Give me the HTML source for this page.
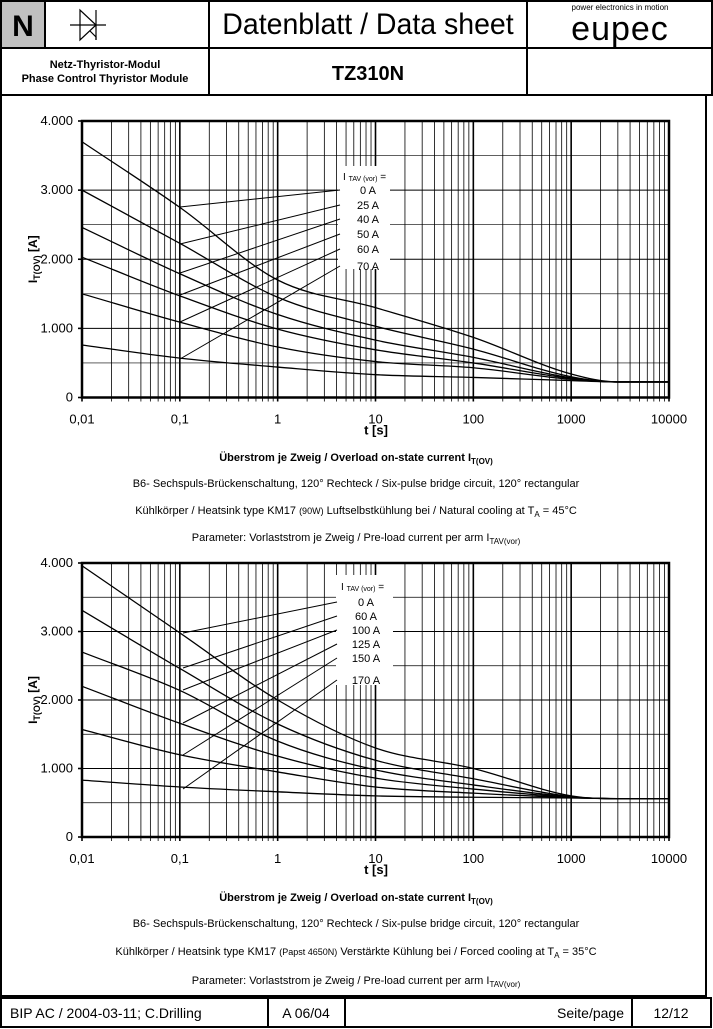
<!DOCTYPE html>
<html><head><meta charset="utf-8"><style>
body{margin:0;width:713px;height:1029px;background:#fff;font-family:"Liberation Sans",Arial,sans-serif;overflow:hidden}
svg{position:absolute;left:0;top:0}
</style></head><body>
<svg id="s" width="713" height="1029" viewBox="0 0 713 1029" font-family="Liberation Sans, Arial, sans-serif">
<rect x="1" y="1" width="44" height="47" fill="#c0c0c0"/>
<g stroke="#000" stroke-width="2" fill="none">
<rect x="1" y="1" width="711" height="94"/>
<line x1="1" y1="48" x2="712" y2="48"/>
<line x1="45" y1="1" x2="45" y2="48"/>
<line x1="209" y1="1" x2="209" y2="95"/>
<line x1="527" y1="1" x2="527" y2="95"/>
<rect x="1" y="95" width="705" height="901"/>
<rect x="1" y="998" width="710" height="29"/>
<line x1="268" y1="998" x2="268" y2="1027"/>
<line x1="345" y1="998" x2="345" y2="1027"/>
<line x1="632" y1="998" x2="632" y2="1027"/>
</g>
<text x="23" y="36" font-size="30" font-weight="bold" text-anchor="middle">N</text>
<g stroke="#000" stroke-width="1.2" fill="none">
<line x1="70" y1="25" x2="106" y2="25"/>
<path d="M80 10 L80 40 L96 25 Z"/><line x1="96" y1="10" x2="96" y2="40"/>
<path d="M90 31 L96 37 L96 40"/>
</g>
<text x="368" y="34" font-size="30" text-anchor="middle" transform="translate(368,0) scale(0.95,1) translate(-368,0)">Datenblatt / Data sheet</text>
<text x="620" y="10" font-size="8" text-anchor="middle">power electronics in motion</text>
<text x="620" y="40" font-size="34" text-anchor="middle" letter-spacing="1">eupec</text>
<text x="105" y="68" font-size="11" font-weight="bold" text-anchor="middle">Netz-Thyristor-Modul</text>
<text x="105" y="82" font-size="11" font-weight="bold" text-anchor="middle">Phase Control Thyristor Module</text>
<text x="368" y="80" font-size="20" font-weight="bold" text-anchor="middle">TZ310N</text>
<text x="10" y="1018" font-size="14">BIP AC /  2004-03-11; C.Drilling</text>
<text x="306" y="1018" font-size="14" text-anchor="middle">A 06/04</text>
<text x="624" y="1018" font-size="14" text-anchor="end">Seite/page</text>
<text x="671" y="1018" font-size="14" text-anchor="middle">12/12</text>

<g font-size="11" text-anchor="middle">
<text x="356" y="461" font-weight="bold">Überstrom je Zweig / Overload on-state current I<tspan font-size="8" dy="3">T(OV)</tspan></text>
<text x="356" y="487">B6- Sechspuls-Brückenschaltung, 120° Rechteck / Six-pulse bridge circuit, 120° rectangular</text>
<text x="356" y="514">Kühlkörper / Heatsink type KM17 <tspan font-size="9">(90W)</tspan> Luftselbstkühlung bei / Natural cooling at T<tspan font-size="8" dy="3">A</tspan><tspan dy="-3"> = 45°C</tspan></text>
<text x="356" y="541">Parameter: Vorlaststrom je Zweig / Pre-load current per arm I<tspan font-size="8" dy="3">TAV(vor)</tspan></text>
<text x="356" y="901" font-weight="bold">Überstrom je Zweig / Overload on-state current I<tspan font-size="8" dy="3">T(OV)</tspan></text>
<text x="356" y="927">B6- Sechspuls-Brückenschaltung, 120° Rechteck / Six-pulse bridge circuit, 120° rectangular</text>
<text x="356" y="955">Kühlkörper / Heatsink type KM17 <tspan font-size="9">(Papst 4650N)</tspan>      Verstärkte Kühlung bei / Forced cooling at T<tspan font-size="8" dy="3">A</tspan><tspan dy="-3"> = 35°C</tspan></text>
<text x="356" y="984">Parameter: Vorlaststrom je Zweig / Pre-load current per arm I<tspan font-size="8" dy="3">TAV(vor)</tspan></text>
</g>
<g id="c1"></g><g id="c2"></g>
</svg>
<script>
var NS="http://www.w3.org/2000/svg";
function el(p,n,a,t){var e=document.createElementNS(NS,n);for(var k in a)e.setAttribute(k,a[k]);if(t!=null)e.textContent=t;p.appendChild(e);return e;}
function mono(P){
 var n=P.length,dx=[],s=[],m=[];
 for(var i=0;i<n-1;i++){dx[i]=P[i+1][0]-P[i][0];s[i]=(P[i+1][1]-P[i][1])/dx[i];}
 m[0]=s[0];m[n-1]=s[n-2];
 for(var i=1;i<n-1;i++){m[i]=(s[i-1]*s[i]<=0)?0:(s[i-1]+s[i])/2;}
 for(var i=0;i<n-1;i++){if(s[i]==0){m[i]=0;m[i+1]=0;continue;}var a=m[i]/s[i],b=m[i+1]/s[i],h=a*a+b*b;if(h>9){var t=3/Math.sqrt(h);m[i]=t*a*s[i];m[i+1]=t*b*s[i];}}
 var d='M'+P[0][0]+' '+P[0][1];
 for(var i=0;i<n-1;i++){var h=dx[i]/3;d+=' C'+(P[i][0]+h)+' '+(P[i][1]+m[i]*h)+' '+(P[i+1][0]-h)+' '+(P[i+1][1]-m[i+1]*h)+' '+P[i+1][0]+' '+P[i+1][1];}
 return d;}
function chart(g,y0,y4,curves,legend,labels,lx,ly,starts,box,txty){
 var X0=82,X1=669,D=(X1-X0)/6;
 function X(t){return X0+(Math.log10(t)+2)*D;}
 function Y(v){return y0+(y4-y0)*v/4000;}
 for(var v=500;v<4000;v+=500){el(g,'line',{x1:X0,x2:X1,y1:Y(v),y2:Y(v),stroke:'#000','stroke-width':v%1000?0.7:1});}
 for(var d=0;d<6;d++)for(var m=1;m<10;m++){var x=X0+(d+Math.log10(m))*D;
  el(g,'line',{x1:x,x2:x,y1:y4,y2:y0+4,stroke:'#000','stroke-width':m==1?1.6:0.8});}
 el(g,'rect',{x:X0,y:y4,width:X1-X0,height:y0-y4,fill:'none',stroke:'#000','stroke-width':2.5});
 el(g,'line',{x1:X1,x2:X1,y1:y0,y2:y0+4,stroke:'#000','stroke-width':1.6});
 for(var v=0;v<=4000;v+=1000){el(g,'line',{x1:X0-4,x2:X0,y1:Y(v),y2:Y(v),stroke:'#000','stroke-width':1.6});
  el(g,'text',{x:73,y:Y(v)+4,'font-size':13,'text-anchor':'end'},v?(v/1000)+'.000':'0');}
 var tl=['0,01','0,1','1','10','100','1000','10000'];
 for(var i=0;i<7;i++)el(g,'text',{x:X0+i*D,y:y0+26,'font-size':13,'text-anchor':'middle'},tl[i]);
 el(g,'text',{x:376,y:y0+37,'font-size':13,'font-weight':'bold','text-anchor':'middle'},'t [s]');
 var yl=el(g,'text',{x:0,y:0,'font-size':12,'font-weight':'bold','text-anchor':'middle',transform:'translate(37,'+((y0+y4)/2)+') rotate(-90)'},'I');
 el(yl,'tspan',{'font-size':9,dy:3},'T(OV)');el(yl,'tspan',{dy:-3},' [A]');
 el(g,'rect',{x:box[0],y:box[1],width:box[2],height:box[3],fill:'#fff'});
 var ts=[0.01,0.1,1,10,100,1000,3000,10000];
 curves.forEach(function(c){
  var P=ts.map(function(t,i){return [X(t),Y(c[i])];});
  el(g,'path',{d:mono(P),fill:'none',stroke:'#000','stroke-width':1.3});
 });
 for(var i=0;i<6;i++)el(g,'line',{x1:starts[i][0],y1:starts[i][1],x2:lx,y2:ly[i],stroke:'#000','stroke-width':1});
 var h=el(g,'text',{x:box[0]+5,y:txty,'font-size':10},'I ');el(h,'tspan',{'font-size':7,dy:1},legend);el(h,'tspan',{dy:-1},' =');
 for(var i=0;i<6;i++)el(g,'text',{x:box[0]+30,y:ly[i]+4,'font-size':11,'text-anchor':'middle'},labels[i]);
}
chart(document.getElementById('c1'),397.5,121,
 [[3700,2750,1700,1300,870,340,225,225],
  [3000,2230,1450,1030,700,300,225,225],
  [2460,1790,1200,830,580,285,225,225],
  [2030,1470,990,690,500,275,225,225],
  [1500,1090,730,520,430,262,225,225],
  [760,570,440,330,290,245,225,225]],
 'TAV (vor)',['0 A','25 A','40 A','50 A','60 A','70 A'],340,[190,205,219,234,249,266],
 [[180,207],[180,244],[180,273],[180,295],[180,322],[180,359]],[338,166,52,103],180);
chart(document.getElementById('c2'),837,563,
 [[3960,2980,2000,1300,1000,600,560,560],
  [3310,2460,1650,1120,850,590,560,560],
  [2700,2140,1400,980,760,585,560,560],
  [2200,1660,1180,860,700,580,560,560],
  [1570,1200,950,730,640,575,560,560],
  [830,730,660,600,580,570,560,560]],
 'TAV (vor)',['0 A','60 A','100 A','125 A','150 A','170 A'],337,[602,616,630,644,658,680],
 [[183,633],[183,668],[183,690],[183,723],[183,755],[183,789]],[336,575,57,110],590);
</script>
</body></html>
